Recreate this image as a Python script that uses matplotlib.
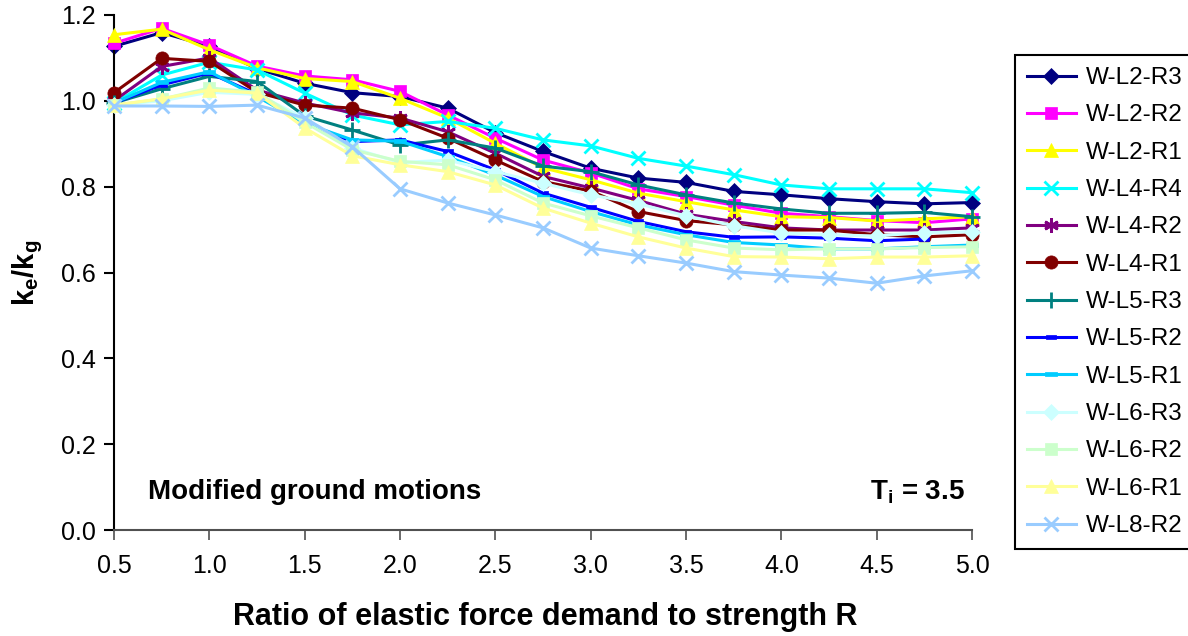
import numpy as np
import matplotlib
matplotlib.use("Agg")
import matplotlib.pyplot as plt
from matplotlib import font_manager
from matplotlib.path import Path

# R values (x axis)
ratios = [0.5, 0.75, 1.0, 1.25, 1.5, 1.75, 2.0, 2.25, 2.5, 2.75, 3.0,
          3.25, 3.5, 3.75, 4.0, 4.25, 4.5, 4.75, 5.0]

# ke/kg for each wall
w_l2_r3 = [1.127, 1.159, 1.127, 1.075, 1.041, 1.019, 1.010, 0.983, 0.926, 0.882, 0.843,
           0.820, 0.810, 0.789, 0.781, 0.772, 0.765, 0.760, 0.763]
w_l2_r2 = [1.134, 1.169, 1.130, 1.081, 1.058, 1.049, 1.022, 0.967, 0.913, 0.862, 0.832,
           0.795, 0.777, 0.757, 0.738, 0.730, 0.721, 0.716, 0.725]
w_l2_r1 = [1.154, 1.167, 1.119, 1.077, 1.052, 1.045, 1.006, 0.960, 0.901, 0.844, 0.816,
           0.785, 0.765, 0.746, 0.730, 0.728, 0.720, 0.725, 0.730]
w_l4_r4 = [0.995, 1.060, 1.090, 1.072, 1.018, 0.967, 0.944, 0.952, 0.936, 0.909, 0.895,
           0.866, 0.848, 0.828, 0.804, 0.795, 0.795, 0.795, 0.786]
w_l4_r2 = [1.000, 1.080, 1.100, 1.025, 0.995, 0.972, 0.960, 0.928, 0.878, 0.824, 0.797,
           0.768, 0.736, 0.719, 0.704, 0.699, 0.699, 0.699, 0.704]
w_l4_r1 = [1.019, 1.099, 1.092, 1.020, 0.990, 0.983, 0.956, 0.913, 0.862, 0.812, 0.790,
           0.742, 0.721, 0.711, 0.699, 0.699, 0.688, 0.683, 0.688]
w_l5_r3 = [0.995, 1.028, 1.057, 1.045, 0.965, 0.932, 0.897, 0.909, 0.890, 0.848, 0.835,
           0.804, 0.781, 0.762, 0.748, 0.738, 0.738, 0.740, 0.730]
w_l5_r2 = [0.995, 1.037, 1.065, 1.015, 0.948, 0.905, 0.909, 0.882, 0.839, 0.785, 0.752,
           0.719, 0.695, 0.682, 0.683, 0.680, 0.674, 0.678, np.nan]
w_l5_r1 = [0.995, 1.043, 1.068, 1.010, 0.948, 0.909, 0.906, 0.870, 0.827, 0.777, 0.742,
           0.711, 0.688, 0.670, 0.664, 0.655, 0.655, 0.660, 0.664]
w_l6_r3 = [0.990, 1.000, 1.020, 1.015, 0.960, 0.890, 0.856, 0.862, 0.835, 0.808, 0.781,
           0.760, 0.732, 0.709, 0.692, 0.688, 0.685, 0.693, 0.695]
w_l6_r2 = [0.990, 1.004, 1.030, 1.020, 0.950, 0.886, 0.859, 0.851, 0.816, 0.762, 0.732,
           0.704, 0.676, 0.657, 0.653, 0.655, 0.655, 0.658, 0.660]
w_l6_r1 = [0.990, 1.005, 1.025, 1.018, 0.937, 0.872, 0.851, 0.835, 0.804, 0.750, 0.715,
           0.683, 0.657, 0.637, 0.636, 0.632, 0.636, 0.636, 0.639]
w_l8_r2 = [0.988, 0.988, 0.987, 0.990, 0.960, 0.893, 0.795, 0.762, 0.734, 0.704, 0.657,
           0.639, 0.622, 0.602, 0.594, 0.587, 0.575, 0.592, 0.604]

labels = ["W-L2-R3", "W-L2-R2", "W-L2-R1", "W-L4-R4", "W-L4-R2", "W-L4-R1", "W-L5-R3",
          "W-L5-R2", "W-L5-R1", "W-L6-R3", "W-L6-R2", "W-L6-R1", "W-L8-R2"]
series = [w_l2_r3, w_l2_r2, w_l2_r1, w_l4_r4, w_l4_r2, w_l4_r1, w_l5_r3,
          w_l5_r2, w_l5_r1, w_l6_r3, w_l6_r2, w_l6_r1, w_l8_r2]

# Excel-like dash markers
short_dash = Path([(-1, -0.45), (1, -0.45), (1, 0.45), (-1, 0.45), (-1, -0.45)],
                  [Path.MOVETO, Path.LINETO, Path.LINETO, Path.LINETO, Path.CLOSEPOLY])
long_dash = Path([(-1, -0.3), (1, -0.3), (1, 0.3), (-1, 0.3), (-1, -0.3)],
                 [Path.MOVETO, Path.LINETO, Path.LINETO, Path.LINETO, Path.CLOSEPOLY])

# color, marker, markersize
styles = [
    ("#000080", "D", 8.5),
    ("#FF00FF", "s", 8.5),
    ("#FFFF00", "^", 10.5),
    ("#00FFFF", "x", 9.5),
    ("#800080", (6, 2, 0), 10.5),
    ("#800000", "o", 9.5),
    ("#008080", "+", 11.5),
    ("#0000FF", short_dash, 7),
    ("#00CCFF", long_dash, 9),
    ("#CCFFFF", "D", 8.5),
    ("#CCFFCC", "s", 8.5),
    ("#FFFF99", "^", 10.5),
    ("#99CCFF", "x", 9.5),
]

names = {f.name for f in font_manager.fontManager.ttflist}
narrow = "Liberation Sans Narrow" if "Liberation Sans Narrow" in names else "Liberation Sans"

plt.rcParams["font.family"] = ["Liberation Sans", "DejaVu Sans"]
plt.rcParams["mathtext.fontset"] = "custom"
plt.rcParams["mathtext.rm"] = "Liberation Sans"
plt.rcParams["mathtext.bf"] = "Liberation Sans:bold"

fig = plt.figure(figsize=(11.88, 6.36), dpi=100)
ax = fig.add_axes([114 / 1188, 1 - 530 / 636, (972 - 114) / 1188, (530 - 15) / 636])

for i, (vals, lab, (col, mk, ms)) in enumerate(zip(series, labels, styles)):
    line_markers = mk in ("x", "+") or isinstance(mk, tuple)
    ax.plot(ratios, vals, color=col, lw=2.2, marker=mk, markersize=ms,
            markerfacecolor=col, markeredgecolor=col,
            markeredgewidth=2 if line_markers else 0.5,
            label=lab, zorder=2 + i, clip_on=False)

ax.set_xlim(0.5, 5.0)
ax.set_ylim(0.0, 1.2)
ax.set_xticks(np.arange(0.5, 5.01, 0.5))
ax.set_yticks(np.arange(0.0, 1.21, 0.2))
ax.set_xticklabels([f"{v:.1f}" for v in np.arange(0.5, 5.01, 0.5)], fontsize=18, family=narrow)
ax.set_yticklabels([f"{v:.1f}" for v in np.arange(0.0, 1.21, 0.2)], fontsize=18)

ax.spines["top"].set_visible(False)
ax.spines["right"].set_visible(False)
ax.spines["left"].set_linewidth(1.5)
ax.spines["bottom"].set_linewidth(1.5)
ax.spines["bottom"].set_color("#505050")
ax.tick_params(axis="y", direction="out", length=7, width=1.5, pad=6)
ax.tick_params(axis="x", direction="out", length=7, width=1.2, color="#505050", pad=10)

ax.text(0.04, 0.074, "Modified ground motions", transform=ax.transAxes,
        fontsize=20, fontweight="bold", va="center", ha="left")
ax.text(0.992, 0.074, r"$\mathbf{T_i}$ = 3.5", transform=ax.transAxes,
        fontsize=20, fontweight="bold", va="center", ha="right")

fig.text(545 / 1188, 1 - 617 / 636, "Ratio of elastic force demand to strength R",
         fontsize=22, fontweight="bold", family=narrow, ha="center", va="center")
fig.text(28 / 1188, 1 - 273 / 636, r"$\mathbf{k_e/k_g}$", rotation=90,
         fontsize=21, ha="center", va="center")

leg = ax.legend(loc="upper left", bbox_to_anchor=(1015 / 1188, 1 - 55 / 636),
                bbox_transform=fig.transFigure, borderaxespad=0, fontsize=17.5,
                handlelength=2.0, handletextpad=0.4, labelspacing=0.63,
                borderpad=0.5, fancybox=False, framealpha=1)
leg.get_frame().set_edgecolor("black")
leg.get_frame().set_linewidth(1.5)

fig.savefig("out.png", dpi=100)
